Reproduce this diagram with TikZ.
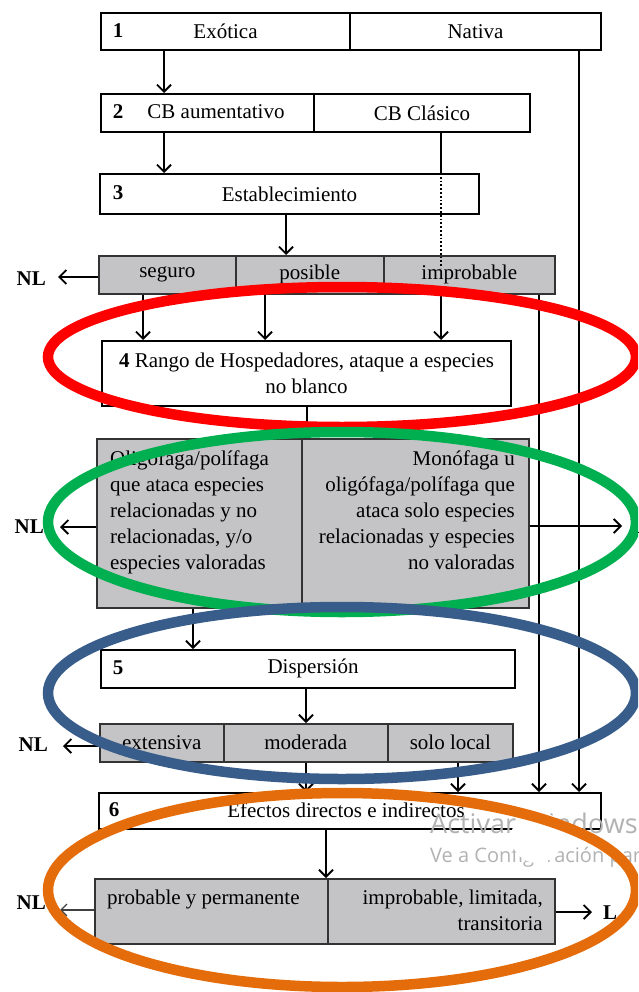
\documentclass[tikz,border=0pt]{standalone}
\usepackage{fontspec}
\setmainfont{Liberation Serif}
\newfontfamily\wmfont{Open Sans}
\usetikzlibrary{arrows.meta}
\definecolor{boxgray}{RGB}{196,196,198}
\definecolor{ringred}{RGB}{255,0,0}
\definecolor{ringgreen}{RGB}{0,176,80}
\definecolor{ringblue}{RGB}{56,93,138}
\definecolor{ringorange}{RGB}{228,108,10}
\newcommand\tf{\fontsize{21}{26}\selectfont}
\begin{document}
\begin{tikzpicture}[x=1pt,y=-1pt,
  box/.style={draw, line width=2pt, fill=white, inner sep=0pt, anchor=north west, font=\tf},
  gbox/.style={box, draw=black!80, line width=1.6pt, fill=boxgray},
  lbl/.style={inner sep=0pt, font=\tf},
  tag/.style={inner sep=0pt, font=\tf\bfseries},
  ln/.style={line width=1.8pt},
  arr/.style={ln, -{Straight Barb[length=7pt,width=14pt]}},
  ring/.style={line width=10.5pt},
]
\clip (0,0) rectangle (638,992);
\fill[white] (0,0) rectangle (638,992);

% ---- level 1
\node[box, minimum width=249pt, minimum height=37pt] (b1a) at (100,12) {Exótica};
\node[box, minimum width=251pt, minimum height=37pt] (b1b) at (349,12) {Nativa};
\node[tag] (n1) at (118,31) {1};
% ---- level 2
\node[box, minimum width=213pt, minimum height=38pt] (b2a) at (100,93) {};
\node[box, minimum width=216pt, minimum height=38pt] (b2b) at (313,93) {CB Clásico};
\node[tag] (n2) at (118,112) {2};
\node[lbl] (t2a) at (216,112) {CB aumentativo};
% ---- level 3
\node[box, minimum width=379pt, minimum height=40pt] (b3) at (99,173) {Establecimiento};
\node[tag] (n3) at (118,193) {3};
% ---- bar 1
\node[gbox, minimum width=137pt, minimum height=38pt] (seg) at (98,255) {seguro};
\node[gbox, minimum width=148pt, minimum height=38pt] (pos) at (235,255) {posible};
\node[gbox, minimum width=171pt, minimum height=38pt] (imp) at (383,255) {improbable};
% ---- level 4
\node[box, minimum width=409pt, minimum height=65pt, align=center] (b4) at (101,340)
  {{\bfseries 4} Rango de Hospedadores, ataque a especies\\no blanco};
% ---- host range
\node[gbox, minimum width=205pt, minimum height=169pt] (bigL) at (96,438) {};
\node[gbox, minimum width=227pt, minimum height=169pt] (bigR) at (301,438) {};
\node[lbl, anchor=north west, align=left] (tL) at (110,451)
  {Oligófaga/polífaga\\que ataca especies\\relacionadas y no\\relacionadas, y/o\\especies valoradas};
\node[lbl, anchor=north east, align=right] (tR) at (515,451)
  {Monófaga u\\oligófaga/polífaga que\\ataca solo especies\\relacionadas y especies\\no valoradas};
% ---- level 5
\node[box, minimum width=414pt, minimum height=38pt] (b5) at (100,649) {};
\node[tag] (n5) at (118,668) {5};
\node[lbl] (t5) at (313,668) {Dispersión};
% ---- bar 2
\node[gbox, minimum width=124pt, minimum height=38pt] (ext) at (99,723) {extensiva};
\node[gbox, minimum width=164pt, minimum height=38pt] (mod) at (223,723) {moderada};
\node[gbox, minimum width=125pt, minimum height=38pt] (loc) at (387,723) {solo local};
% ---- level 6
\node[box, minimum width=502pt, minimum height=36pt] (b6) at (98,792) {};
\node[tag] (n6) at (114,810) {6};
\node[lbl] (t6) at (346,810) {Efectos directos e indirectos};
% ---- bar 3
\node[gbox, minimum width=233pt, minimum height=65pt] (effL) at (94,878) {};
\node[gbox, minimum width=227pt, minimum height=65pt] (effR) at (327,878) {};
\node[lbl, anchor=north west] (tEL) at (107,890) {probable y permanente};
\node[lbl, anchor=north east, align=right] (tER) at (543,890) {improbable, limitada,\\transitoria};

% ---- side labels
\node[tag, anchor=east] (nl1) at (46,279) {NL};
\node[tag, anchor=east] (nl2) at (44,527) {NL};
\node[tag, anchor=east] (nl3) at (48,745) {NL};
\node[tag, anchor=east] (nl4) at (46,903) {NL};
\node[tag, anchor=west] (l1) at (630,527) {L};
\node[tag, anchor=west] (l2) at (603,913) {L};
\coordinate (nl1t) at (58,277);
\coordinate (nl2t) at (60,527);
\coordinate (nl3t) at (63,746);
\coordinate (nl4t) at (60,910);
\coordinate (l1t) at (622,526);
\coordinate (l2t) at (592,912);

% ---- x positions of connectors
\coordinate (xa) at (164,0);
\coordinate (xc) at (441,0);
\coordinate (xn) at (579,0);
\coordinate (xe) at (286,0);
\coordinate (xs) at (143,0);
\coordinate (xp) at (265,0);
\coordinate (xi) at (539,0);
\coordinate (xh) at (307,0);
\coordinate (xo) at (193,0);
\coordinate (xd) at (306,0);
\coordinate (xl) at (458,0);
\coordinate (xf) at (326,0);
\coordinate (dotend) at (441,268);

% ---- connectors
\draw[arr] (b1a.south -| xa) -- (b2a.north -| xa);
\draw[arr] (b2a.south -| xa) -- (b3.north -| xa);
\draw[ln] (b2b.south -| xc) -- (b3.north -| xc);
\draw[line width=1.8pt, dash pattern=on 1.8pt off 2pt] (b3.north -| xc) -- (dotend);
\draw[arr] (b1b.south -| xn) -- (b6.north -| xn);
\draw[arr] (b3.south -| xe) -- (pos.north -| xe);
\draw[arr] (seg.west |- nl1t) -- (nl1t);
\draw[arr] (seg.south -| xs) -- (b4.north -| xs);
\draw[arr] (pos.south -| xp) -- (b4.north -| xp);
\draw[arr] (imp.south -| xc) -- (b4.north -| xc);
\draw[arr] (imp.south -| xi) -- (b6.north -| xi);
\draw[arr] (b4.south -| xh) -- (bigR.north -| xh);
\draw[arr] (bigL.west |- nl2t) -- (nl2t);
\draw[arr] (bigR.east |- l1t) -- (l1t);
\draw[arr] (bigL.south -| xo) -- (b5.north -| xo);
\draw[arr] (b5.south -| xd) -- (mod.north -| xd);
\draw[arr] (ext.west |- nl3t) -- (nl3t);
\draw[arr] (mod.south -| xd) -- (b6.north -| xd);
\draw[arr] (loc.south -| xl) -- (b6.north -| xl);
\draw[arr] (b6.south -| xf) -- (effL.north -| xf);
\draw[line width=1.3pt, draw=black!75, -{Straight Barb[length=6pt,width=12pt]}] (effL.west |- nl4t) -- (nl4t);
\draw[arr] (effR.east |- l2t) -- (l2t);

% ---- screen watermark
\node[anchor=west, inner sep=0pt, text=black!30, font=\wmfont\fontsize{27}{32}\selectfont] (wm1) at (430,823) {Activar Windows};
\node[anchor=west, inner sep=0pt, text=black!30, font=\wmfont\fontsize{20}{24}\selectfont] (wm2) at (430,857) {Ve a Configuración para activar Windows.};
\fill[white] (537,837) circle (26pt);

% ---- highlight rings
\draw[ring, ringred] (342,357) ellipse [x radius=294pt, y radius=70pt];
\draw[ring, ringgreen] (342,522) ellipse [x radius=294pt, y radius=90pt];
\draw[ring, ringblue] (342,693) ellipse [x radius=294pt, y radius=86pt];
\draw[ring, ringorange] (342,890) ellipse [x radius=294pt, y radius=97pt];
\end{tikzpicture}
\end{document}
